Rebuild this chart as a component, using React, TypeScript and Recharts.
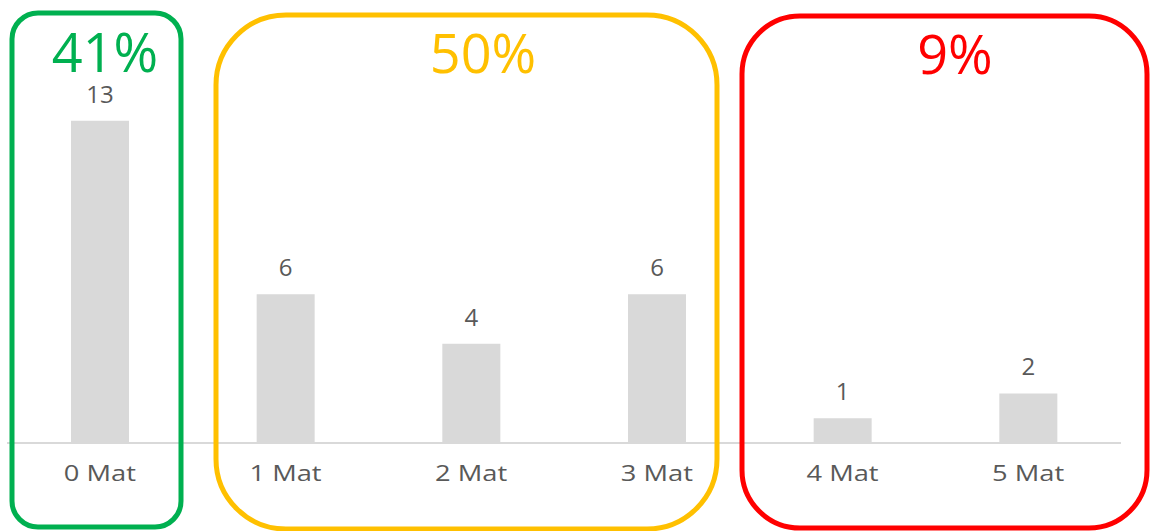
import { BarChart, Bar, XAxis, YAxis, LabelList } from "recharts";

const categories = ["0 Mat", "1 Mat", "2 Mat", "3 Mat", "4 Mat", "5 Mat"];
const counts = [13, 6, 4, 6, 1, 2];
const groupLabels = ["41%", "50%", "9%"];
const groupColors = ["#00B050", "#FFC000", "#FF0000"];

const data = categories.map((name, i) => ({ name, count: counts[i] }));

const FONT = "'Open Sans', sans-serif";

const MatTick = (props: any) => {
  const { x, y, payload } = props;
  return (
    <g transform={`translate(${x},${y})`}>
      <text
        x={0}
        y={0}
        dy={30}
        textAnchor="middle"
        fill="#595959"
        fontSize={21}
        fontFamily={FONT}
        transform="scale(1.3,1)"
      >
        {payload.value}
      </text>
    </g>
  );
};

// group boxes drawn on top of the chart
const boxes = [
  { x: 12, y: 13, w: 169, h: 514, r: 26, tx: 105, ty: 72 },
  { x: 216, y: 15, w: 501, h: 514, r: 70, tx: 483, ty: 73 },
  { x: 742, y: 16, w: 405, h: 512, r: 58, tx: 955, ty: 74 },
];

export default function App() {
  return (
    <div
      style={{
        position: "absolute",
        left: 0,
        top: 0,
        width: 1152,
        height: 531,
        background: "#fff",
        fontFamily: FONT,
      }}
    >
      <BarChart
        width={1152}
        height={531}
        data={data}
        margin={{ top: 96, right: 31, bottom: 0, left: 7 }}
      >
        <YAxis hide domain={[0, 14]} />
        <XAxis
          dataKey="name"
          height={88}
          axisLine={{ stroke: "#d9d9d9", strokeWidth: 2 }}
          tickLine={false}
          tick={<MatTick />}
        />
        <Bar dataKey="count" fill="#d9d9d9" barSize={58} isAnimationActive={false}>
          <LabelList
            dataKey="count"
            position="top"
            offset={18}
            fill="#595959"
            fontSize={24}
            fontFamily={FONT}
          />
        </Bar>
      </BarChart>
      <svg
        width={1152}
        height={531}
        style={{ position: "absolute", left: 0, top: 0, pointerEvents: "none" }}
      >
        {boxes.map((b, i) => (
          <g key={i}>
            <rect
              x={b.x}
              y={b.y}
              width={b.w}
              height={b.h}
              rx={b.r}
              ry={b.r}
              fill="none"
              stroke={groupColors[i]}
              strokeWidth={5}
            />
            <text
              x={b.tx}
              y={b.ty}
              textAnchor="middle"
              fill={groupColors[i]}
              fontSize={54}
              fontFamily={FONT}
            >
              {groupLabels[i]}
            </text>
          </g>
        ))}
      </svg>
    </div>
  );
}
